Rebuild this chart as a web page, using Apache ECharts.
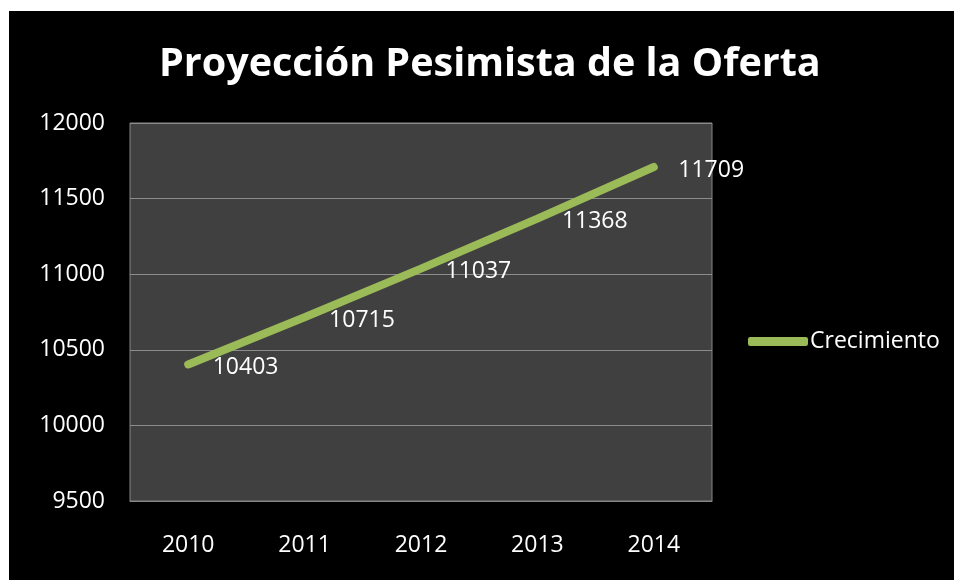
<!DOCTYPE html>
<html>
<head>
<meta charset="utf-8">
<script src="https://cdn.jsdelivr.net/npm/echarts@6/dist/echarts.min.js"></script>
<style>
    html, body { margin: 0; padding: 0; background: #fff; }
    #chart { position: absolute; left: 9px; top: 11px; width: 945px; height: 569px; background: #000; }
</style>
</head>
<body>
<div id="chart"></div>
<script>
var years = ['2010', '2011', '2012', '2013', '2014'];
var crecimiento = [10403, 10715, 11037, 11368, 11709];

window.onload = function(){
    showChart();
}

function showChart() {
    var myChart = echarts.init(document.getElementById('chart'));

    var option = {
        backgroundColor: '#000',
        animation: false,
        title: {
            text: 'Proyección Pesimista de la Oferta',
            left: 145,
            top: 29,
            textStyle: {
                color: '#fff',
                fontSize: 39.5,
                fontWeight: 'bold',
                fontFamily: 'Open Sans'
            }
        },
        grid: {
            left: 121,
            right: 242,
            top: 112,
            bottom: 79,
            show: true,
            backgroundColor: '#404040',
            borderColor: '#868686',
            borderWidth: 1
        },
        legend: {
            data: ['Crecimiento'],
            left: 734,
            top: 314,
            icon: 'roundRect',
            itemWidth: 60,
            itemHeight: 9,
            itemGap: 4,
            textStyle: {
                color: '#fff',
                fontSize: 23,
                fontFamily: 'Open Sans',
                padding: [0, 0, 0, -3]
            }
        },
        xAxis: {
            type: 'category',
            boundaryGap: true,
            data: years,
            axisTick: { show: false },
            axisLine: { lineStyle: { color: '#868686' } },
            axisLabel: {
                color: '#fff',
                fontSize: 23,
                fontFamily: 'Open Sans',
                margin: 33
            }
        },
        yAxis: {
            type: 'value',
            min: 9500,
            max: 12000,
            interval: 500,
            axisLine: { show: false },
            axisTick: { show: false },
            splitLine: { lineStyle: { color: '#8c8c8c', width: 1 } },
            axisLabel: {
                color: '#fff',
                fontSize: 23,
                fontFamily: 'Open Sans',
                margin: 25,
                formatter: function (v) { return String(v); }
            }
        },
        series: [
            {
                name: 'Crecimiento',
                type: 'line',
                data: crecimiento,
                symbol: 'circle',
                symbolSize: 1,
                showSymbol: true,
                lineStyle: {
                    color: '#9bbb59',
                    width: 8,
                    cap: 'round'
                },
                itemStyle: { color: '#9bbb59' },
                label: {
                    show: true,
                    position: 'right',
                    distance: 24,
                    offset: [0, 3],
                    color: '#fff',
                    fontSize: 23,
                    fontFamily: 'Open Sans',
                    formatter: function (p) { return String(p.value); }
                }
            }
        ]
    };

    myChart.setOption(option);
}
</script>
</body>
</html>
